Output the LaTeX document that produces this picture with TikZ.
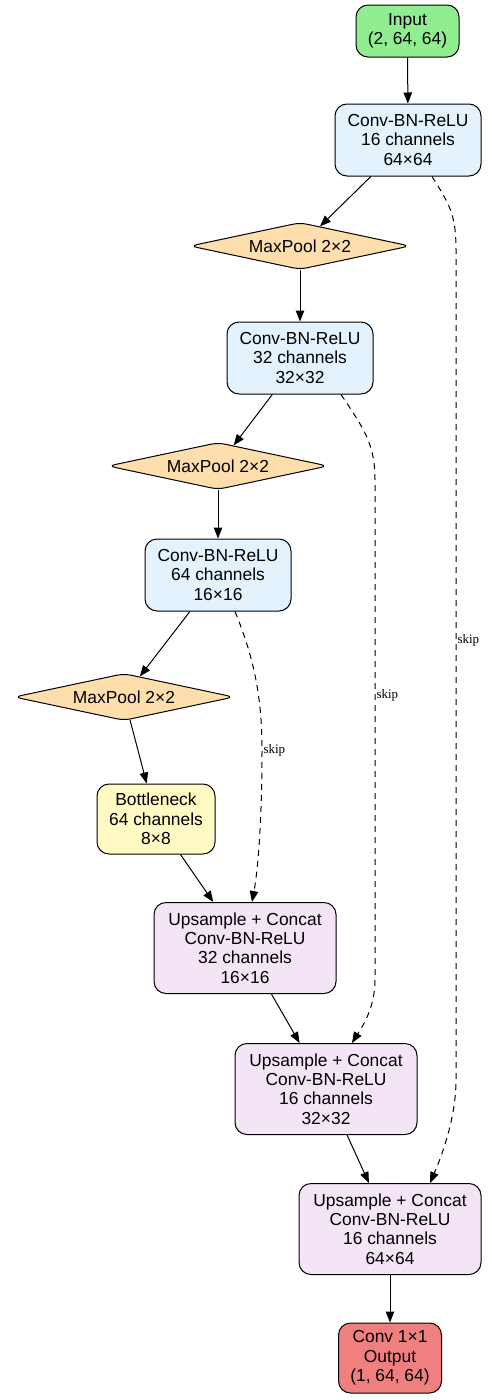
\documentclass[tikz,border=0pt]{standalone}
\usepackage{fontspec}
\setmainfont{Liberation Sans}
\newfontfamily\edgefont{Liberation Serif}
\usepackage{tikz}
\usetikzlibrary{arrows.meta,shapes.geometric}
\definecolor{ingreen}{HTML}{90EE90}
\definecolor{convblue}{HTML}{E3F2FD}
\definecolor{poolorange}{HTML}{FFDEAD}
\definecolor{neckyellow}{HTML}{FFF9C4}
\definecolor{uppurple}{HTML}{F3E5F5}
\definecolor{outred}{HTML}{F08080}
\tikzset{
  netbox/.style={draw=black, rounded corners=12pt, line width=1pt, align=center,
    inner sep=0pt, font=\fontsize{17.4}{19.4}\selectfont},
  inbox/.style={netbox, fill=ingreen, minimum width=103pt, minimum height=52pt},
  convbox/.style={netbox, fill=convblue, minimum width=146pt, minimum height=72pt},
  poolbox/.style={diamond, draw=black, line width=1pt, rounded corners=7pt, aspect=4.5,
    fill=poolorange, inner sep=0pt, minimum width=220pt, minimum height=47pt,
    font=\fontsize{17.4}{19.4}\selectfont},
  neckbox/.style={netbox, fill=neckyellow, minimum width=118pt, minimum height=70pt},
  upbox/.style={netbox, fill=uppurple, minimum width=182pt, minimum height=91pt},
  outbox/.style={netbox, fill=outred, minimum width=103pt, minimum height=70pt},
  flow/.style={-{Triangle[length=11pt,width=8.5pt]}, line width=1pt},
  skipflow/.style={flow, dash pattern=on 6pt off 5pt},
  skiplabel/.style={font=\edgefont\fontsize{13}{15}\selectfont, anchor=west, inner sep=1pt}
}
\begin{document}
\begin{tikzpicture}[x=1pt, y=-1pt]
\useasboundingbox (0,0) rectangle (491,1400);

\node[inbox] (input) at (407.5,31) {Input\\(2, 64, 64)};
\node[convbox] (conv1) at (408,140) {Conv-BN-ReLU\\16 channels\\64×64};
\node[poolbox] (pool1) at (300,246) {MaxPool 2×2};
\node[convbox] (conv2) at (300,358) {Conv-BN-ReLU\\32 channels\\32×32};
\node[poolbox] (pool2) at (218,466) {MaxPool 2×2};
\node[convbox] (conv3) at (218,575) {Conv-BN-ReLU\\64 channels\\16×16};
\node[poolbox] (pool3) at (124,697) {MaxPool 2×2};
\node[neckbox] (neck) at (156,819) {Bottleneck\\64 channels\\8×8};
\node[upbox] (up1) at (245,948) {Upsample + Concat\\Conv-BN-ReLU\\32 channels\\16×16};
\node[upbox] (up2) at (326,1089) {Upsample + Concat\\Conv-BN-ReLU\\16 channels\\32×32};
\node[upbox] (up3) at (390,1229) {Upsample + Concat\\Conv-BN-ReLU\\16 channels\\64×64};
\node[outbox] (output) at (390,1358) {Conv 1×1\\Output\\(1, 64, 64)};

\draw[flow] (input) -- (conv1);
\draw[flow] (conv1) -- (pool1);
\draw[flow] (pool1) -- (conv2);
\draw[flow] (conv2) -- (pool2);
\draw[flow] (pool2) -- (conv3);
\draw[flow] (conv3) -- (pool3);
\draw[flow] (pool3) -- (neck);
\draw[flow] (neck) -- (up1);
\draw[flow] (up1) -- (up2);
\draw[flow] (up2) -- (up3);
\draw[flow] (up3) -- (output);

% skip connections
\draw[skipflow] ([xshift=17pt]conv3.south) .. controls (255,660) and (262,700) .. (262,750)
  node[skiplabel] {skip}
  .. controls (262,820) and (258,870) .. ([xshift=7pt]up1.north);
\draw[skipflow] ([xshift=41pt]conv2.south) .. controls (365,430) and (375,445) .. (375,480)
  -- (375,695) node[skiplabel] {skip}
  -- (375,980) .. controls (375,1010) and (360,1030) .. ([xshift=26pt]up2.north);
\draw[skipflow] ([xshift=24pt]conv1.south) .. controls (450,205) and (456,215) .. (456,250)
  -- (456,640) node[skiplabel] {skip}
  -- (456,1080) .. controls (456,1120) and (440,1160) .. ([xshift=40pt]up3.north);
\end{tikzpicture}
\end{document}
